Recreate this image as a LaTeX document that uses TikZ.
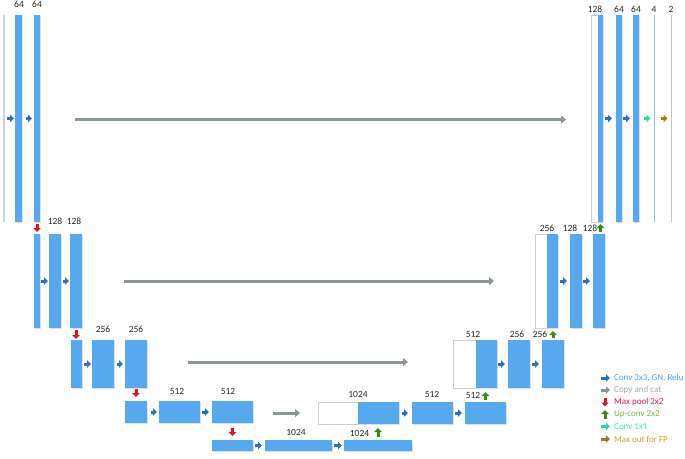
\documentclass[tikz,border=0pt]{standalone}
\usepackage{fontspec}
\setmainfont{Carlito}
\usetikzlibrary{arrows.meta,shadows}
\definecolor{boxc}{HTML}{56A9EF}
\definecolor{cConv}{HTML}{2E6FB8}
\definecolor{cCopy}{HTML}{8A9696}
\definecolor{cPool}{HTML}{E8101E}
\definecolor{cUp}{HTML}{3A8A12}
\definecolor{cOne}{HTML}{2FD8A0}
\definecolor{cMax}{HTML}{A27A1E}
\definecolor{tConv}{HTML}{4BA6EE}
\definecolor{tCopy}{HTML}{A6A6A6}
\definecolor{tPool}{HTML}{E8174B}
\definecolor{tUp}{HTML}{70B83E}
\definecolor{tOne}{HTML}{3FE6B8}
\definecolor{tMax}{HTML}{C9A02A}
\definecolor{catline}{HTML}{C5D3D8}
\definecolor{inline}{HTML}{C5D3DB}
\definecolor{fourline}{HTML}{8EC4EE}
\definecolor{twoline}{HTML}{B8C8D0}
\definecolor{labc}{HTML}{262626}
\tikzset{
  fbox/.style={fill=boxc, draw=none, inner sep=0pt, outer sep=0pt,
    drop shadow={shadow xshift=0.7pt, shadow yshift=-0.9pt, fill=black, opacity=0.12}},
  wbox/.style={fill=white, draw=catline, line width=0.6pt, inner sep=0pt, outer sep=0pt,
    drop shadow={shadow xshift=0.7pt, shadow yshift=-0.9pt, fill=black, opacity=0.10}},
  lbox/.style={inner sep=0pt, outer sep=0pt, draw=none},
  lab/.style={font=\fontsize{9.5}{11}\selectfont, text=labc, inner sep=0pt},
  leg/.style={font=\fontsize{9}{10}\selectfont, inner sep=0pt, anchor=west},
  blk/.style={line width=3pt, -{Triangle[length=4pt,width=7.5pt]}},
  conv/.style={blk, draw=cConv},
  pool/.style={blk, draw=cPool},
  upa/.style={blk, draw=cUp},
  onea/.style={blk, draw=cOne},
  maxa/.style={blk, draw=cMax},
  copya/.style={line width=3pt, draw=cCopy, -{Triangle[length=5pt,width=8pt]}},
}
% \ubox[style]{x1}{y1}{x2}{y2}{name}
\newcommand\ubox[6][fbox]{\node[#1, minimum width={#4pt-#2pt}, minimum height={#5pt-#3pt}] (#6) at ({(#2+#4)/2},{(#3+#5)/2}) {};}
\begin{document}
\begin{tikzpicture}[x=1pt,y=-1pt]
\useasboundingbox (0,0) rectangle (685,458);
% ---------- level 1 ----------
\ubox[lbox,fill=inline]{3}{15}{4.5}{222}{in}
\ubox{15}{15}{22}{222}{c11}
\ubox{34}{15}{40}{222}{c12}
\ubox[wbox]{591}{15}{598}{222}{d1w}
\ubox{598}{15}{603}{222}{d1b}
\ubox{616}{15}{622}{222}{d12}
\ubox{633}{15}{639}{222}{d13}
\ubox[lbox,fill=fourline]{653.5}{15}{655}{222}{o4}
\ubox[lbox,fill=twoline]{670.5}{15}{672}{222}{o2}
% ---------- level 2 ----------
\ubox{34}{234}{40}{328}{c21}
\ubox{49}{234}{61}{328}{c22}
\ubox{70}{234}{82}{328}{c23}
\ubox[wbox]{535}{234}{547}{328}{d2w}
\ubox{547}{234}{558}{328}{d2b}
\ubox{570}{234}{582}{328}{d22}
\ubox{593}{234}{605}{328}{d23}
% ---------- level 3 ----------
\ubox{71}{340}{82}{388}{c31}
\ubox{92}{340}{114}{388}{c32}
\ubox{125}{340}{147}{388}{c33}
\ubox[wbox]{453}{340}{476}{388}{d3w}
\ubox{476}{340}{497}{388}{d3b}
\ubox{508}{340}{530}{388}{d32}
\ubox{542}{340}{564}{388}{d33}
% ---------- level 4 ----------
\ubox{125}{401}{147}{423}{c41}
\ubox{159}{401}{200}{423}{c42}
\ubox{212}{401}{253}{423}{c43}
\ubox[wbox]{318}{402}{358}{424}{d4w}
\ubox{358}{402}{399}{424}{d4b}
\ubox{412}{402}{453}{424}{d42}
\ubox{465}{402}{506}{424}{d43}
% ---------- level 5 ----------
\ubox{212}{440}{253}{451}{c51}
\ubox{265}{440}{332}{451}{c52}
\ubox{344}{440}{412}{451}{c53}
% ---------- labels ----------
\node[lab] (t11) at (19,4) {64};
\node[lab] (t12) at (37,4) {64};
\node[lab] (u1w) at (595,9.5) {128};
\node[lab] (u12) at (619,9.5) {64};
\node[lab] (u13) at (636,9.5) {64};
\node[lab] (uo4) at (654,9.5) {4};
\node[lab] (uo2) at (671,9.5) {2};
\node[lab] (t22) at (55,221) {128};
\node[lab] (t23) at (74,221) {128};
\node[lab] (u2w) at (547,228) {256};
\node[lab] (u22) at (570,228) {128};
\node[lab] (u23) at (590,228) {128};
\node[lab] (t32) at (103,329) {256};
\node[lab] (t33) at (136,329) {256};
\node[lab] (u3w) at (473,334) {512};
\node[lab] (u32) at (517,334) {256};
\node[lab] (u33) at (540,334) {256};
\node[lab] (t42) at (177,391) {512};
\node[lab] (t43) at (228,391) {512};
\node[lab] (u4w) at (358,394) {1024};
\node[lab] (u42) at (432,394) {512};
\node[lab] (u43) at (473,395) {512};
\node[lab] (t52) at (296,432) {1024};
\node[lab] (t53) at (359.5,433) {1024};
% ---------- conv arrows ----------
\draw[conv, shorten <=2pt, shorten >=1pt] (in) -- (c11);
\draw[conv, shorten <=4pt, shorten >=2pt] (c11) -- (c12);
\draw[conv, shorten <=1pt, shorten >=1pt] (c21) -- (c22);
\draw[conv, shorten <=2pt, shorten >=1pt] (c22) -- (c23);
\draw[conv, shorten <=2pt, shorten >=1pt] (c31) -- (c32);
\draw[conv, shorten <=3pt, shorten >=2pt] (c32) -- (c33);
\draw[conv, shorten <=4pt, shorten >=2pt] (c41) -- (c42);
\draw[conv, shorten <=2pt, shorten >=3pt] (c42) -- (c43);
\draw[conv, shorten <=2pt, shorten >=3pt] (c51) -- (c52);
\draw[conv, shorten <=2pt, shorten >=2pt] (c52) -- (c53);
\draw[conv, shorten <=3pt, shorten >=4pt] (d4b) -- (d42);
\draw[conv, shorten <=2pt, shorten >=3pt] (d42) -- (d43);
\draw[conv, shorten <=1pt, shorten >=3pt] (d3b) -- (d32);
\draw[conv, shorten <=2pt, shorten >=3pt] (d32) -- (d33);
\draw[conv, shorten <=2pt, shorten >=3pt] (d2b) -- (d22);
\draw[conv, shorten <=1pt, shorten >=3pt] (d22) -- (d23);
\draw[conv, shorten <=2pt, shorten >=4pt] (d1b) -- (d12);
\draw[conv, shorten <=1pt, shorten >=3pt] (d12) -- (d13);
\draw[onea, shorten <=5pt, shorten >=3pt] (d13) -- (o4);
\draw[maxa, shorten <=6pt, shorten >=3pt] (o4) -- (o2);
% ---------- copy arrows ----------
\draw[copya, shorten <=35pt, shorten >=25pt] ([yshift=-1pt]c12.east) -- ([yshift=-1pt]d1w.west);
\draw[copya, shorten <=42pt, shorten >=41pt] (c23) -- (d2w);
\draw[copya, shorten <=41pt, shorten >=45pt] ([yshift=2pt]c33.east) -- ([yshift=2pt]d3w.west);
\draw[copya, shorten <=20pt, shorten >=18pt] ([yshift=-1pt]c43.east) -- (d4w.west |- 0,413);
% ---------- max pool ----------
\draw[pool, shorten <=2pt, shorten >=2pt] (c12) -- (c21);
\draw[pool, shorten <=2pt, shorten >=1pt] (c23.south) -- (c23.south |- c31.north);
\draw[pool, shorten <=1pt, shorten >=4pt] (c33) -- (c41);
\draw[pool, shorten <=5pt, shorten >=4pt] (c43) -- (c51);
% ---------- up-conv ----------
\draw[upa, shorten <=2pt, shorten >=2pt] (d23.north -| d1b.south) -- (d1b.south);
\draw[upa, shorten <=2pt, shorten >=3pt] (d33.north) -- (d33.north |- d2b.south);
\draw[upa, shorten <=2pt, shorten >=4pt] (d43.north) -- (d43.north |- d3b.south);
\draw[upa, shorten <=3pt, shorten >=4pt] (c53.north) -- (c53.north |- d4b.south);
% ---------- legend ----------
\coordinate (l1a) at (601,378); \coordinate (l1b) at (610,378);
\coordinate (l2a) at (601,390); \coordinate (l2b) at (610,390);
\coordinate (l3a) at (605,398); \coordinate (l3b) at (605,406.5);
\coordinate (l4a) at (605,418.5); \coordinate (l4b) at (605,410);
\coordinate (l5a) at (601,426.5); \coordinate (l5b) at (610,426.5);
\coordinate (l6a) at (601,439); \coordinate (l6b) at (610,439);
\draw[conv] (l1a) -- (l1b);
\draw[blk, draw=cCopy] (l2a) -- (l2b);
\draw[pool] (l3a) -- (l3b);
\draw[upa] (l4a) -- (l4b);
\draw[onea] (l5a) -- (l5b);
\draw[maxa] (l6a) -- (l6b);
\node[leg, text=tConv] (g1) at (614,378) {Conv 3x3, GN, Relu};
\node[leg, text=tCopy] (g2) at (614,390) {Copy and cat};
\node[leg, text=tPool] (g3) at (614,402) {Max pool 2x2};
\node[leg, text=tUp] (g4) at (614,414) {Up-conv 2x2};
\node[leg, text=tOne] (g5) at (614,426.5) {Conv 1x1};
\node[leg, text=tMax] (g6) at (614,439) {Max out for FP};
\end{tikzpicture}
\end{document}
